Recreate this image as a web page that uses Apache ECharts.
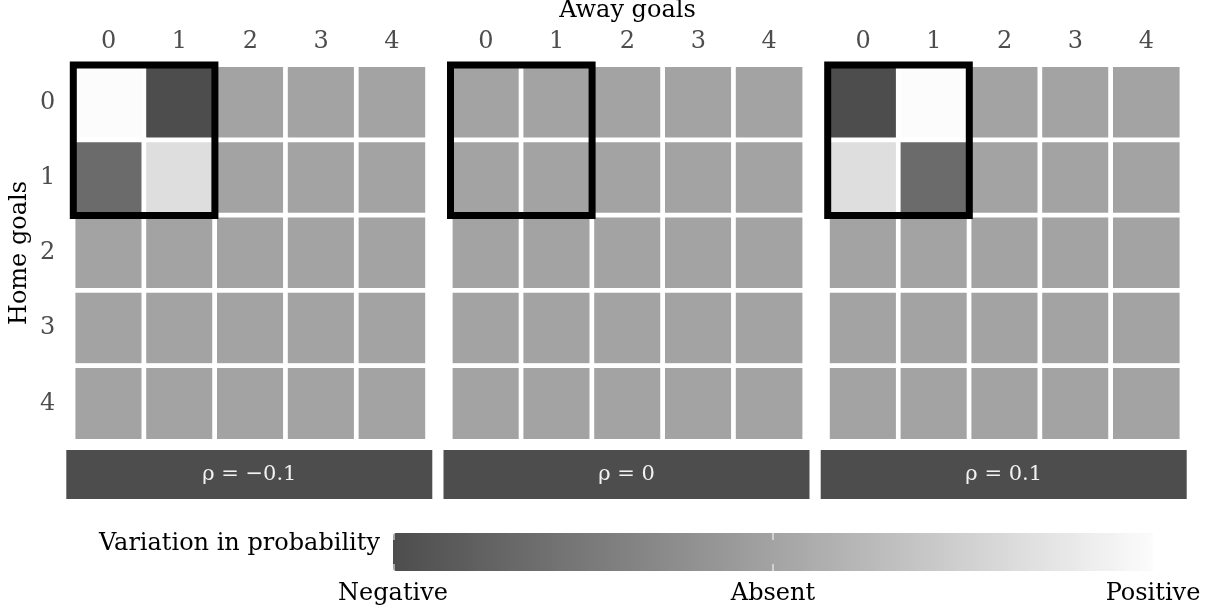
<!DOCTYPE html>
<html>
<head>
<meta charset="utf-8">
<script src="https://cdn.jsdelivr.net/npm/echarts@6/dist/echarts.min.js"></script>
<style>
html,body{margin:0;padding:0;background:#fff;}
#main{width:1212px;height:612px;}
</style>
</head>
<body>
<div id="main"></div>
<script>
// ---- data ----
const awayGoals = ['0', '1', '2', '3', '4'];
const homeGoals = ['0', '1', '2', '3', '4'];
const rhoLabels = ['ρ = −0.1', 'ρ = 0', 'ρ = 0.1'];
// variation in probability (rows = home goals, cols = away goals), scaled -1..1
const variationRhoNeg = [
  [1.00, -1.00, 0, 0, 0],
  [-0.65, 0.66, 0, 0, 0],
  [0, 0, 0, 0, 0],
  [0, 0, 0, 0, 0],
  [0, 0, 0, 0, 0]
];
const variationRhoZero = [
  [0, 0, 0, 0, 0],
  [0, 0, 0, 0, 0],
  [0, 0, 0, 0, 0],
  [0, 0, 0, 0, 0],
  [0, 0, 0, 0, 0]
];
const variationRhoPos = [
  [-1.00, 1.00, 0, 0, 0],
  [0.66, -0.65, 0, 0, 0],
  [0, 0, 0, 0, 0],
  [0, 0, 0, 0, 0],
  [0, 0, 0, 0, 0]
];
const legendLabels = ['Negative', 'Absent', 'Positive'];
const legendValues = [-1, 0, 1];
const scaleMin = -1, scaleMax = 1;

// ---- layout / style ----
const FONT = 'DejaVu Serif';
const panels = [variationRhoNeg, variationRhoZero, variationRhoPos];
const gridLefts = [73.3, 450.5, 827.7];
const gridTop = 65, gridW = 354, gridH = 376;
const barLeft = 393, barTop = 533, barLen = 760, barThick = 38;

function toCells(m) {
  const out = [];
  m.forEach((row, r) => row.forEach((v, c) => out.push([c, r, v])));
  return out;
}

const chart = echarts.init(document.getElementById('main'));
const option = {
  backgroundColor: '#fff',
  animation: false,
  grid: gridLefts.map(l => ({left: l, top: gridTop, width: gridW, height: gridH})),
  xAxis: [0, 1, 2].map(i => ({
    type: 'category', gridIndex: i, data: awayGoals, position: 'top',
    axisLine: {show: false}, axisTick: {show: false}, splitLine: {show: false},
    axisLabel: {margin: 11, fontSize: 24, color: '#4D4D4D', fontFamily: FONT}
  })),
  yAxis: [0, 1, 2].map(i => ({
    type: 'category', gridIndex: i, data: homeGoals, inverse: true,
    axisLine: {show: false}, axisTick: {show: false}, splitLine: {show: false},
    axisLabel: {show: i === 0, margin: 18, fontSize: 24, color: '#4D4D4D', fontFamily: FONT}
  })),
  visualMap: {
    type: 'continuous', min: scaleMin, max: scaleMax, orient: 'horizontal',
    left: barLeft, top: barTop, itemWidth: barThick, itemHeight: barLen,
    calculable: false, hoverLink: false, padding: 0,
    seriesIndex: [0, 1, 2],
    inRange: {color: ['#4D4D4D', '#A3A3A3', '#FCFCFC']}
  },
  series: panels.map((p, i) => ({
    type: 'heatmap', xAxisIndex: i, yAxisIndex: i, data: toCells(p),
    silent: true, emphasis: {disabled: true},
    itemStyle: {borderColor: '#fff', borderWidth: 4.7}
  }))
};
chart.setOption(option);

const g = [];
// strips with rho labels
gridLefts.forEach((l, i) => {
  g.push({type: 'rect', shape: {x: l - 7, y: 450, width: gridW + 12, height: 49},
    style: {fill: '#4D4D4D'}, silent: true, z: 5});
  g.push({type: 'text', x: l - 7 + (gridW + 12) / 2, y: 475, z: 6, silent: true,
    style: {text: rhoLabels[i], align: 'center', verticalAlign: 'middle',
      fontSize: 21, fontFamily: FONT, fill: '#F2F2F2'}});
});
// black rectangles around cells (0..1, 0..1) via the axes' scales
[0, 1, 2].forEach(i => {
  const p00 = chart.convertToPixel({gridIndex: i}, [awayGoals[0], homeGoals[0]]);
  const p11 = chart.convertToPixel({gridIndex: i}, [awayGoals[1], homeGoals[1]]);
  const bw = p11[0] - p00[0], bh = p11[1] - p00[1];
  g.push({type: 'rect', z: 10, silent: true,
    shape: {x: p00[0] - bw / 2, y: p00[1] - bh / 2, width: bw * 2, height: bh * 2},
    style: {fill: 'none', stroke: '#000', lineWidth: 7}});
});
// axis titles
g.push({type: 'text', x: gridLefts[1] + gridW / 2, y: 11, silent: true,
  style: {text: 'Away goals', align: 'center', verticalAlign: 'middle', fontSize: 24, fontFamily: FONT, fill: '#000'}});
g.push({type: 'text', x: 20, y: gridTop + gridH / 2, rotation: Math.PI / 2, silent: true,
  style: {text: 'Home goals', align: 'center', verticalAlign: 'middle', fontSize: 24, fontFamily: FONT, fill: '#000'}});
// legend title + ticks + labels
g.push({type: 'text', x: 380, y: 544, silent: true,
  style: {text: 'Variation in probability', align: 'right', verticalAlign: 'middle', fontSize: 24, fontFamily: FONT, fill: '#000'}});
legendValues.forEach((v, k) => {
  const x = barLeft + (v - scaleMin) / (scaleMax - scaleMin) * barLen;
  const xx = Math.min(Math.max(x, barLeft + 1), barLeft + barLen - 1);
  g.push({type: 'line', z: 20, silent: true, shape: {x1: xx, y1: barTop, x2: xx, y2: barTop + 7}, style: {stroke: '#fff', lineWidth: 1}});
  g.push({type: 'line', z: 20, silent: true, shape: {x1: xx, y1: barTop + barThick - 7, x2: xx, y2: barTop + barThick}, style: {stroke: '#fff', lineWidth: 1}});
  g.push({type: 'text', x: x, y: 594, silent: true,
    style: {text: legendLabels[k], align: 'center', verticalAlign: 'middle', fontSize: 24, fontFamily: FONT, fill: '#000'}});
});
chart.setOption({graphic: g});
</script>
</body>
</html>
